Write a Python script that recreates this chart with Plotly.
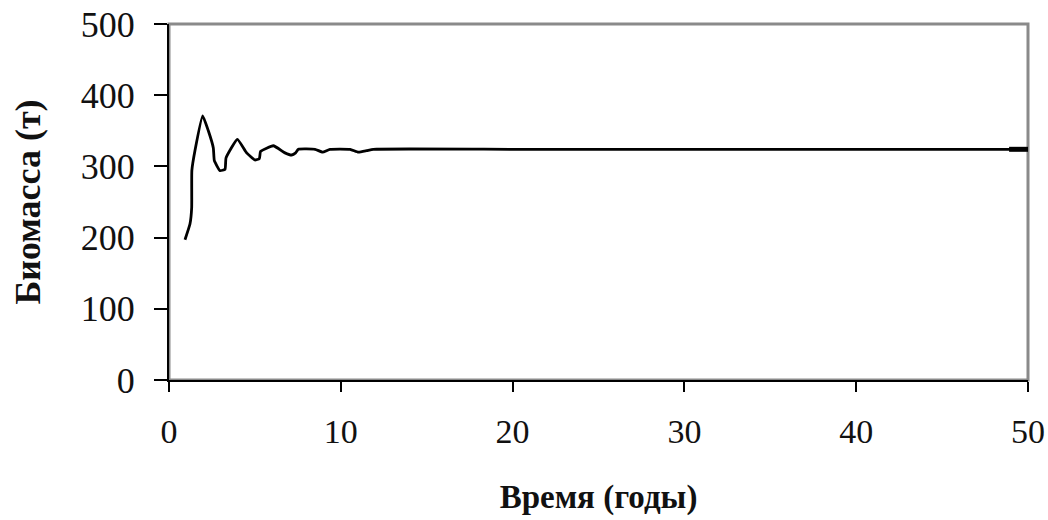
import plotly.graph_objects as go

# Biomass trajectory (time in years, biomass in tonnes)
time_years = [0.93, 1.22, 1.32, 1.33, 1.51, 1.96, 2.29, 2.58, 2.64, 2.97, 3.26, 3.32,
              3.98, 4.52, 5.0, 5.26, 5.33, 6.07, 6.75, 7.14, 7.37, 7.53, 8.5, 8.94,
              9.37, 10.54, 11.02, 11.5, 11.89, 20, 30, 40, 50]
biomass_t = [197, 219, 242, 294, 322, 371, 350, 326, 308, 294, 296, 312,
             338, 319, 309, 311, 321, 329, 319, 316, 319, 324, 324, 320,
             324, 324, 320, 322, 324, 324, 324, 324, 324]

# short thick stub at the end of the series
end_time = [48.9, 50]
end_biomass = [324, 324]

x_ticks = [0, 10, 20, 30, 40, 50]
y_ticks = [0, 100, 200, 300, 400, 500]

fig = go.Figure()
fig.add_trace(go.Scatter(x=time_years, y=biomass_t, mode="lines",
                         line=dict(color="black", width=2.8, shape="spline", smoothing=0.4),
                         showlegend=False, hoverinfo="skip"))
fig.add_trace(go.Scatter(x=end_time, y=end_biomass, mode="lines",
                         line=dict(color="black", width=5),
                         showlegend=False, hoverinfo="skip"))

font_family = "Liberation Serif, Times New Roman, serif"

fig.add_shape(type="rect", xref="paper", yref="paper", x0=0, x1=1, y0=0, y1=1,
              line=dict(color="#8a8a8a", width=3), layer="below")

fig.update_layout(
    width=1048, height=520,
    margin=dict(l=169, r=20, t=24, b=140),
    paper_bgcolor="white", plot_bgcolor="white",
    font=dict(family=font_family, color="#111", size=30),
)
fig.update_xaxes(range=[0, 50], tickvals=x_ticks, ticktext=[str(v) for v in x_ticks],
                 automargin=False, ticklabeloverflow="allow",
                 showgrid=False, zeroline=False, showline=True, linecolor="black", linewidth=2,
                 ticks="outside", ticklen=10, tickwidth=1.5, tickcolor="black",
                 tickfont=dict(family=font_family, size=34), ticklabelstandoff=10,
                 title=dict(text="<b>Время (годы)</b>", font=dict(family=font_family, size=33),
                            standoff=36))
fig.update_yaxes(range=[0, 500], tickvals=y_ticks, ticktext=[str(v) for v in y_ticks],
                 automargin=False, ticklabeloverflow="allow",
                 showgrid=False, zeroline=False, showline=True, linecolor="black", linewidth=2,
                 ticks="outside", ticklen=13, tickwidth=1.5, tickcolor="black",
                 tickfont=dict(family=font_family, size=36), ticklabelstandoff=12,
                 title=dict(text="<b>Биомасса (т)</b>", font=dict(family=font_family, size=36),
                            standoff=29))

fig.write_html(
    "out.html",
    config={"displayModeBar": False},
    post_script="document.body.style.margin='0';document.documentElement.style.overflow='hidden';",
)
